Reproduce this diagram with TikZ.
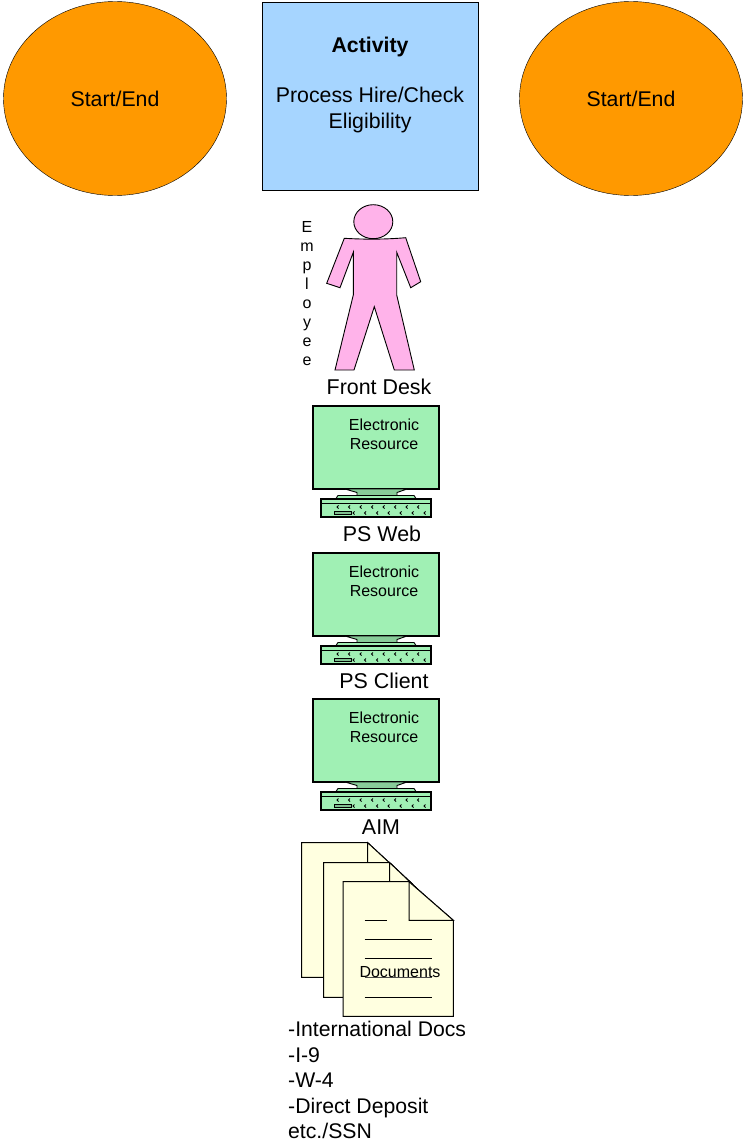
\documentclass[tikz,border=0pt]{standalone}
\usepackage{fontspec}
\usetikzlibrary{shapes.geometric}
\setmainfont{Liberation Sans}
\definecolor{startorange}{HTML}{FF9900}
\definecolor{activityblue}{HTML}{A6D5FF}
\definecolor{personpink}{HTML}{FFB3EA}
\definecolor{screengreen}{HTML}{A0F0B4}
\definecolor{docyellow}{HTML}{FFFFE0}
\begin{document}
\begin{tikzpicture}[x=1pt,y=-1pt]
            \tikzstyle{big text}=[font=\fontsize{21.3}{25.5}\selectfont,inner sep=0];
            \tikzstyle{label text}=[font=\fontsize{21.4}{25.5}\selectfont,inner sep=0];
            \tikzstyle{small text}=[font=\fontsize{16}{19}\selectfont,inner sep=0,align=center];
            \tikzstyle{start node}=[ellipse,draw,fill=startorange,minimum width=223,minimum height=194,inner sep=0,big text];
            \tikzstyle{outline}=[draw=black,line width=0.9];
            \useasboundingbox (0,0) rectangle (745,1142);
            \node[start node] (startleft) at (115,98.5) {Start/End};
            \node[start node] (startright) at (631,98.5) {Start/End};
            \node[draw,fill=activityblue,minimum width=216,minimum height=188,inner sep=0] (activity) at (370,96) {};
            \node[big text] (activitytitle) at (370,46.5) {\bfseries Activity};
            \node[big text,align=center] (activitytext) at (370,110) {Process Hire/Check\\Eligibility};
            \draw[outline,fill=personpink] (373.3,221.7) ellipse (19.5 and 17);
            \draw[outline,fill=personpink] (344.3,238.3) .. controls (365,239.5) and (385,239.5) .. (405.7,237.7)
                --(420.7,281.7)--(410.7,287.7)--(396.7,252.3)--(396.7,295)--(414.3,370)--(394.3,370)
                --(374.3,306.7)--(354,370)--(335,370)--(353.3,295)--(353.3,252.3)--(340,287.7)--(326.7,283.3)--cycle;
            \node[small text] (employee) at (307,293.5) {E\\m\\p\\l\\o\\y\\e\\e};
            \node[label text] (frontdesk) at (379,387) {Front Desk};
            \foreach \y/\labeltext/\labelx in {0/PS Web/382,147/PS Client/384,293/AIM/381}
            {
            \begin{scope}[shift={(0,\y)}]
            \draw[outline,line width=1.3,fill=screengreen] (313,406) rectangle (439,489);
            \draw[outline,fill=screengreen!85!black] (345,489)--(407,489)--(397,492.5)--(397,496)--(357,496)--(357,492.5)--cycle;
            \draw[outline,fill=screengreen] (336,498.5)--(338,495.5)--(414,495.5)--(416,498.5)--cycle;
            \draw[outline,line width=1.2,fill=screengreen] (321,499) rectangle (431,517);
            \draw[outline] (321,503.5)--(431,503.5);
            \draw[line width=0.7,fill=screengreen!80!black] (334.5,511) rectangle (351,514);
            \foreach \k in {337,348.5,360,371.5,383,394.5,406,417.5} \draw[line width=0.8] (\k+1.5,505.5)--(\k,507)--(\k+1.5,508.5);
            \foreach \k in {353,364.5,376.5,388,400,412,424} \draw[line width=0.8] (\k+1.5,511.5)--(\k,513)--(\k+1.5,514.5);
            \node[small text] (resource\y) at (384,434.5) {Electronic\\Resource};
            \node[label text] (system\y) at (\labelx,534) {\labeltext};
            \end{scope}
            }
            \tikzstyle{paper}=[outline,line width=1,fill=docyellow];
            \foreach \x/\y/\d in {301.7/842.7/41,323.7/862.7/42,343/881.7/38.6}
            {
            \draw[paper] (\x,\y)--(\x+66,\y)--(\x+110.3,\y+\d)--(\x+110.3,\y+134.6)--(\x,\y+134.6)--cycle;
            \draw[paper] (\x+66,\y)--(\x+66,\y+\d)--(\x+110.3,\y+\d)--cycle;
            }
            \draw[line width=0.8] (364.7,920)--(387,920);
            \foreach \y in {939.3,958.3,997.3} \draw[line width=0.8] (364.7,\y)--(431.7,\y);
            \draw[line width=0.8,black!70] (364.7,977.7)--(431.7,977.7);
            \node[small text] (documents) at (400,971.7) {Documents};
            \node[label text,font=\fontsize{21.2}{25.5}\selectfont,align=left,anchor=north west] (doclist) at (288,1021.3) {-International Docs\\-I-9\\-W-4\\-Direct Deposit\\etc./SSN};
\end{tikzpicture}
\end{document}
